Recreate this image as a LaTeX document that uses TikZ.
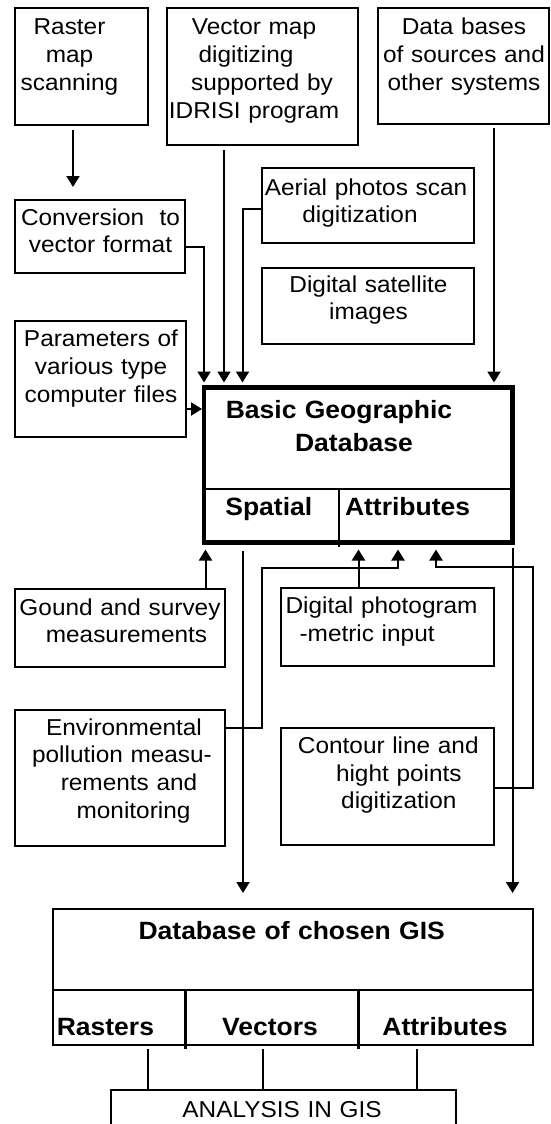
\documentclass[tikz,border=0pt]{standalone}
\usepackage{fontspec}
\setmainfont{Liberation Sans}[FakeStretch=1.06]
\usetikzlibrary{arrows.meta}

\begin{document}
\begin{tikzpicture}[x=1pt, y=-1pt, line width=2pt, >={Triangle[width=13pt,length=11pt]},
    box/.style={draw, rectangle, inner sep=0pt, outer sep=0pt},
    txt/.style={anchor=base, align=center, text width=240pt, inner sep=0pt, font=\fontsize{23}{27.8}\selectfont},
    btxt/.style={anchor=base, align=center, text width=340pt, inner sep=0pt, font=\fontsize{25}{33.4}\selectfont\bfseries}]
    \useasboundingbox (0,0) rectangle (551,1124);
    \clip (0,0) rectangle (551,1124);

    % input sources
    \node[box, minimum width=133, minimum height=117] (raster) at (81.5,66.5) {};
    \node[box, minimum width=191, minimum height=137] (vecmap) at (262.5,76.5) {};
    \node[box, minimum width=171, minimum height=116] (dbases) at (463.5,66) {};
    \node[box, minimum width=170, minimum height=73] (conv) at (99.8,236.5) {};
    \node[box, minimum width=212, minimum height=75] (aerial) at (368,205.5) {};
    \node[box, minimum width=212, minimum height=76] (sat) at (368,306) {};
    \node[box, minimum width=171, minimum height=116] (params) at (100.5,379) {};
    \node[box, minimum width=210, minimum height=78] (gound) at (120,628) {};
    \node[box, minimum width=213, minimum height=78] (photo) at (387.5,627) {};
    \node[box, minimum width=210, minimum height=136] (env) at (120,778) {};
    \node[box, minimum width=213, minimum height=117] (contour) at (387.5,786.5) {};

    \node[txt] (raster-t) at (69.5,35) {Raster\\map\\scanning};
    \node[txt] (vecmap-t) at (254,35) {Vector map\\\hspace*{-16pt}digitizing\\\hspace*{16pt}supported by\\IDRISI program};
    \node[txt] (dbases-t) at (464,35) {Data bases\\of sources and\\other systems};
    \node[txt] (conv-t) at (100.5,225) {Conversion~ to\\vector format};
    \node[txt] (aerial-t) at (366,195) {Aerial photos scan\\\hspace*{-12pt}digitization};
    \node[txt] (sat-t) at (368.5,292) {Digital satellite\\images};
    \node[txt] (params-t) at (101,346.7) {Parameters of\\various type\\computer files};
    \node[txt] (gound-t) at (120,615) {Gound and survey\\\hspace*{13pt}measurements};
    \node[txt] (photo-t) at (381.6,613.3) {Digital photogram\\\hspace*{-29pt}-metric input};
    \node[txt] (env-t) at (122,735) {\hspace*{4pt}Environmental\\pollution measu-\\\hspace*{14pt}rements and\\\hspace*{23pt}monitoring};
    \node[txt] (contour-t) at (388.3,753.3) {Contour line and\\\hspace*{21pt}hight points\\\hspace*{21pt}digitization};

    % basic geographic database
    \node[box, line width=4.5pt, minimum width=308.5, minimum height=155] (bgd) at (358.3,465) {};
    \draw[line width=2.5pt] (bgd.west |- 0,489) -- (bgd.east |- 0,489);
    \draw[line width=2.5pt] (339,489) -- (339,547);
    \node[btxt] (bgd-t) at (339,418.3) {Basic Geographic\\\hspace*{30pt}Database};
    \node[btxt] (spatial) at (268.8,515) {Spatial};
    \node[btxt] (attr1) at (407.6,515) {Attributes};

    % database of chosen GIS
    \node[box, line width=2.7pt, minimum width=480, minimum height=136] (gisdb) at (293,977) {};
    \draw[line width=2.7pt] (gisdb.west |- 0,990) -- (gisdb.east |- 0,990);
    \draw[line width=2.7pt] (185.5,990) -- (185.5,1049) (358.4,990) -- (358.4,1049);
    \node[btxt] (gisdb-t) at (291.7,939.3) {Database of chosen GIS};
    \node[btxt] (rasters) at (105.4,1035) {Rasters};
    \node[btxt] (vectors) at (270,1035) {Vectors};
    \node[btxt] (attr2) at (445,1035) {Attributes};

    \node[box, minimum width=345, minimum height=70] (analysis) at (283.5,1125) {};
    \node[txt] (analysis-t) at (282,1117) {ANALYSIS IN GIS};

    % connectors into the basic database
    \draw[->, shorten <=5pt, shorten >=13pt] (raster.south -| 73,0) -- (conv.north -| 73,0);
    \draw[->, shorten >=5pt] (conv.east |- 0,247) -| (bgd.north west);
    \draw[->, shorten <=5pt, shorten >=5pt] (vecmap.south -| 224,0) -- (bgd.north -| 224,0);
    \draw[->, shorten >=5pt] (aerial.west |- 0,209) -| (bgd.north -| 242.5,0);
    \draw[->, shorten <=4pt, shorten >=5pt] (dbases.south -| 494,0) -- (bgd.north -| 494,0);
    \draw[->, shorten >=2pt] (params.east |- 0,409) -- (bgd.west |- 0,409);
    \draw[->, shorten >=7pt] (gound.north -| 205.5,0) -- (bgd.south -| 205.5,0);
    \draw[->, shorten >=7pt] (photo.north -| 358.5,0) -- (bgd.south -| 358.5,0);
    \draw[->, shorten >=7pt] (env.east |- 0,728) -| (262,568) -| (bgd.south -| 398,0);
    \draw[->, shorten >=7pt] (contour.east |- 0,788) -| (533,567) -| (bgd.south -| 436,0);

    % connectors out of it
    \draw[->, shorten <=8pt, shorten >=16pt] (bgd.south -| 243,0) -- (gisdb.north -| 243,0);
    \draw[->, shorten <=5pt, shorten >=16pt] (bgd.south east) -- (gisdb.north -| bgd.south east);
    \foreach \x in {147.6,263,417.4}
        \draw[shorten <=4pt] (gisdb.south -| \x,0) -- (analysis.north -| \x,0);
\end{tikzpicture}
\end{document}
